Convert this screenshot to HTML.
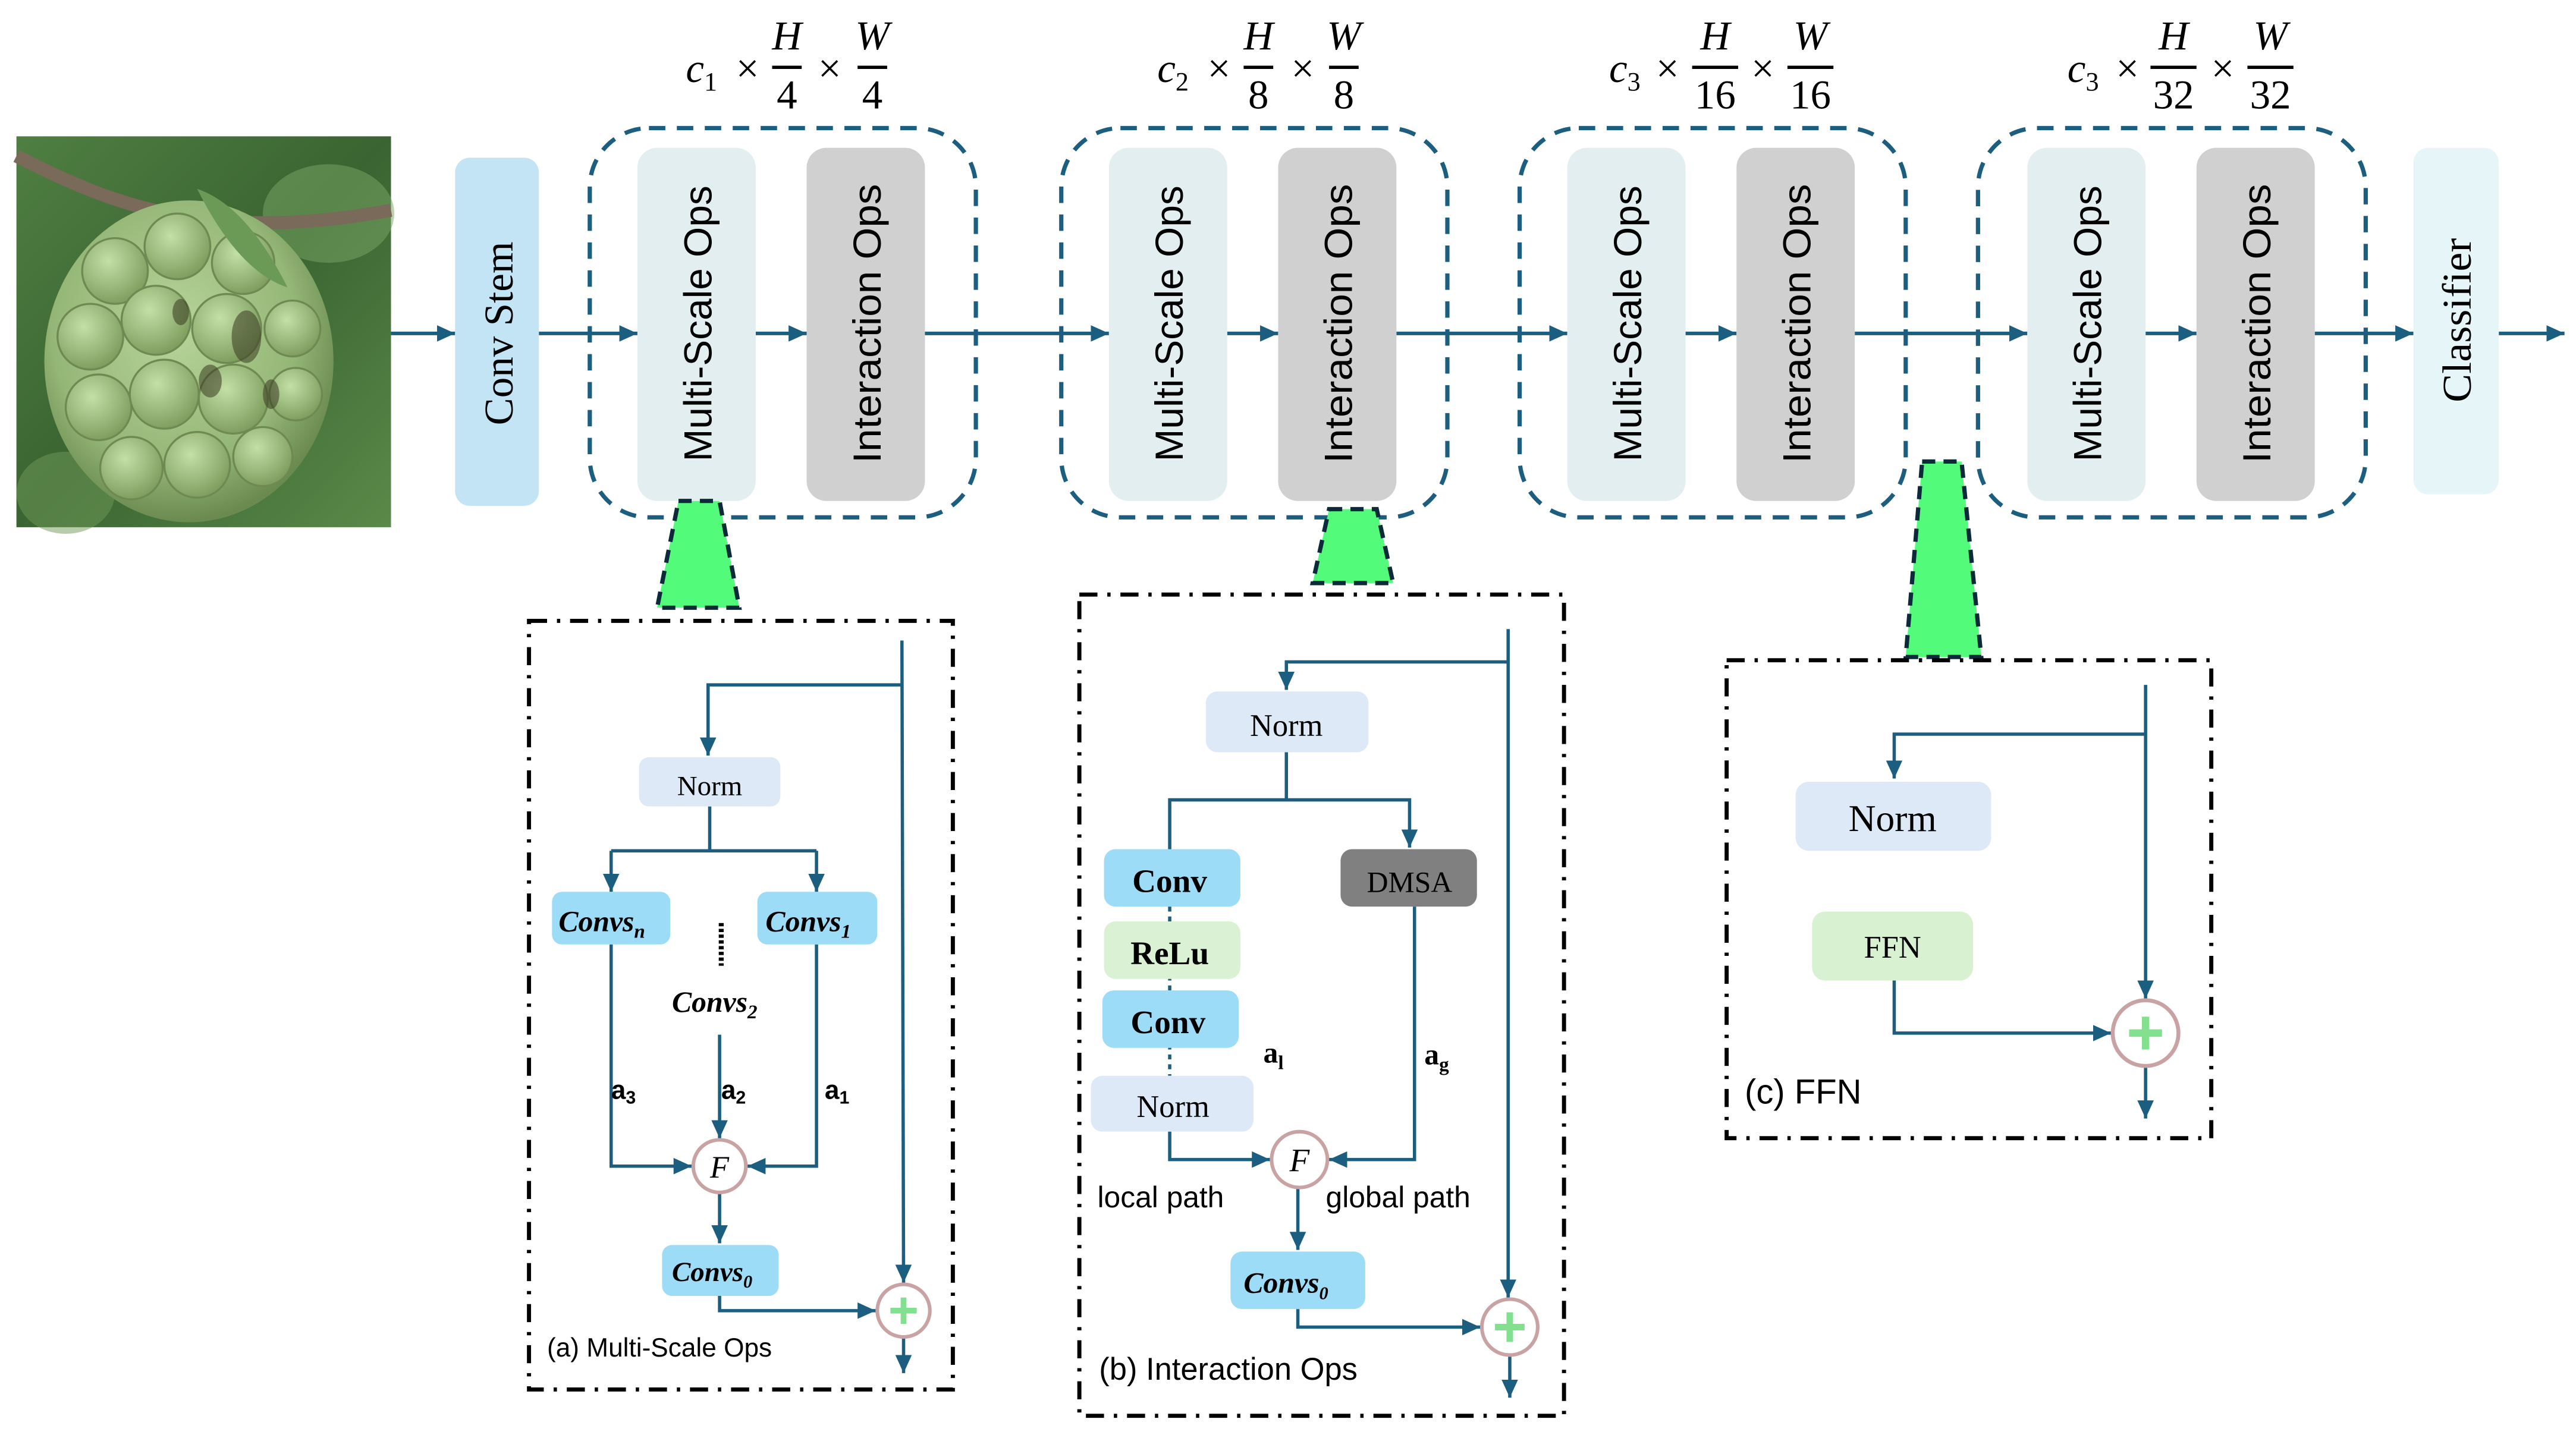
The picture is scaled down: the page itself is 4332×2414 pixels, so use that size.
<!DOCTYPE html>
<html><head><meta charset="utf-8"><style>
html,body{margin:0;padding:0;background:#fff;}
svg{display:block;}
.sans{font-family:"Liberation Sans","DejaVu Sans",sans-serif;}
.serif{font-family:"Liberation Serif","DejaVu Serif",serif;}
</style></head><body>
<svg width="4332" height="2414" viewBox="0 0 1568 873.7" preserveAspectRatio="none" xmlns="http://www.w3.org/2000/svg">
<defs>
<marker id="ah" markerUnits="userSpaceOnUse" markerWidth="12" markerHeight="10" refX="11" refY="5" orient="auto">
<path d="M0,0 L11,5 L0,10 Z" fill="#1b5e80"/></marker>
<radialGradient id="fruit" cx="45%" cy="40%" r="60%"><stop offset="0" stop-color="#b7d69a"/><stop offset="0.7" stop-color="#94b676"/><stop offset="1" stop-color="#6a8a50"/></radialGradient>
<radialGradient id="bump" cx="40%" cy="35%" r="65%"><stop offset="0" stop-color="#c3e0a6"/><stop offset="1" stop-color="#7f9f60"/></radialGradient>
<linearGradient id="bg" x1="0" y1="0" x2="1" y2="1"><stop offset="0" stop-color="#4f7f42"/><stop offset="0.5" stop-color="#3a6431"/><stop offset="1" stop-color="#5a8a4a"/></linearGradient>
</defs>
<rect width="1568" height="873.7" fill="#fff"/>

<!-- photo -->
<rect x="10" y="83" width="228" height="238" fill="url(#bg)"/>
<ellipse cx="200" cy="130" rx="40" ry="30" fill="#7aa865" opacity="0.5"/>
<ellipse cx="40" cy="300" rx="30" ry="25" fill="#6f9a58" opacity="0.5"/>
<path d="M10,95 C60,120 120,150 238,128" stroke="#7a6a5a" stroke-width="8" fill="none"/>
<ellipse cx="115" cy="220" rx="88" ry="98" fill="url(#fruit)"/>
<g fill="url(#bump)" stroke="#6e8a52" stroke-width="1.2">
<circle cx="70" cy="165" r="20"/><circle cx="108" cy="150" r="20"/><circle cx="148" cy="160" r="19"/>
<circle cx="55" cy="205" r="20"/><circle cx="95" cy="195" r="21"/><circle cx="138" cy="200" r="21"/><circle cx="178" cy="200" r="17"/>
<circle cx="60" cy="248" r="20"/><circle cx="100" cy="240" r="21"/><circle cx="142" cy="243" r="21"/><circle cx="180" cy="240" r="16"/>
<circle cx="80" cy="285" r="19"/><circle cx="120" cy="283" r="20"/><circle cx="160" cy="278" r="18"/>
</g>
<g fill="#3a3a22" opacity="0.55">
<ellipse cx="150" cy="205" rx="9" ry="16"/><ellipse cx="128" cy="232" rx="7" ry="10"/><ellipse cx="110" cy="190" rx="5" ry="8"/><ellipse cx="165" cy="240" rx="5" ry="9"/>
</g>
<path d="M120,115 q30,10 55,60 q-30,-10 -55,-60z" fill="#6a9a55"/>

<!-- main flow line -->
<g stroke="#1b5e80" stroke-width="2.2" fill="none">
<line x1="238" y1="203" x2="277" y2="203" marker-end="url(#ah)"/>
<line x1="328" y1="203" x2="388" y2="203" marker-end="url(#ah)"/>
<line x1="460" y1="203" x2="491" y2="203" marker-end="url(#ah)"/>
<line x1="563" y1="203" x2="675" y2="203" marker-end="url(#ah)"/>
<line x1="747" y1="203" x2="778" y2="203" marker-end="url(#ah)"/>
<line x1="850" y1="203" x2="954" y2="203" marker-end="url(#ah)"/>
<line x1="1026" y1="203" x2="1057" y2="203" marker-end="url(#ah)"/>
<line x1="1129" y1="203" x2="1234" y2="203" marker-end="url(#ah)"/>
<line x1="1306" y1="203" x2="1337" y2="203" marker-end="url(#ah)"/>
<line x1="1409" y1="203" x2="1469" y2="203" marker-end="url(#ah)"/>
<line x1="1521" y1="203" x2="1561" y2="203" marker-end="url(#ah)"/>
</g>

<!-- Conv stem -->
<rect x="277" y="96" width="51" height="212" rx="9" fill="#c2e4f5"/>
<text class="serif" font-size="25" transform="translate(312,203) rotate(-90)" text-anchor="middle">Conv Stem</text>

<!-- stages -->
<g fill="none" stroke="#1b5e80" stroke-width="2.6" stroke-dasharray="10 7">
<rect x="359" y="78" width="235" height="237" rx="36"/>
<rect x="646" y="78" width="235" height="237" rx="36"/>
<rect x="925" y="78" width="235" height="237" rx="36"/>
<rect x="1204" y="78" width="236" height="237" rx="36"/>
</g>
<g>
<rect x="388" y="90" width="72" height="215" rx="12" fill="#e3eef0"/>
<rect x="491" y="90" width="72" height="215" rx="12" fill="#d0d0d0"/>
<rect x="675" y="90" width="72" height="215" rx="12" fill="#e3eef0"/>
<rect x="778" y="90" width="72" height="215" rx="12" fill="#d0d0d0"/>
<rect x="954" y="90" width="72" height="215" rx="12" fill="#e3eef0"/>
<rect x="1057" y="90" width="72" height="215" rx="12" fill="#d0d0d0"/>
<rect x="1234" y="90" width="72" height="215" rx="12" fill="#e3eef0"/>
<rect x="1337" y="90" width="72" height="215" rx="12" fill="#d0d0d0"/>
<rect x="1469" y="90" width="52" height="211" rx="9" fill="#e6f6f8"/>
</g>
<g class="sans" font-size="24">
<text transform="translate(433,197) rotate(-90)" text-anchor="middle" textLength="168" lengthAdjust="spacingAndGlyphs">Multi-Scale Ops</text>
<text transform="translate(536,197) rotate(-90)" text-anchor="middle" textLength="170" lengthAdjust="spacingAndGlyphs">Interaction Ops</text>
<text transform="translate(720,197) rotate(-90)" text-anchor="middle" textLength="168" lengthAdjust="spacingAndGlyphs">Multi-Scale Ops</text>
<text transform="translate(823,197) rotate(-90)" text-anchor="middle" textLength="170" lengthAdjust="spacingAndGlyphs">Interaction Ops</text>
<text transform="translate(999,197) rotate(-90)" text-anchor="middle" textLength="168" lengthAdjust="spacingAndGlyphs">Multi-Scale Ops</text>
<text transform="translate(1102,197) rotate(-90)" text-anchor="middle" textLength="170" lengthAdjust="spacingAndGlyphs">Interaction Ops</text>
<text transform="translate(1279,197) rotate(-90)" text-anchor="middle" textLength="168" lengthAdjust="spacingAndGlyphs">Multi-Scale Ops</text>
<text transform="translate(1382,197) rotate(-90)" text-anchor="middle" textLength="170" lengthAdjust="spacingAndGlyphs">Interaction Ops</text>
</g>
<text class="serif" font-size="25" transform="translate(1504,195) rotate(-90)" text-anchor="middle" textLength="100" lengthAdjust="spacingAndGlyphs">Classifier</text>

<!-- math labels -->
<g class="serif" font-size="25" font-style="italic" text-anchor="middle">
<text x="427" y="50">c<tspan font-size="16" font-style="normal" dy="5">1</tspan></text>
<text x="455" y="50" font-style="normal">×</text>
<text x="479" y="30">H</text><text x="479" y="66" font-style="normal">4</text>
<text x="505" y="50" font-style="normal">×</text>
<text x="531" y="30">W</text><text x="531" y="66" font-style="normal">4</text>

<text x="714" y="50">c<tspan font-size="16" font-style="normal" dy="5">2</tspan></text>
<text x="742" y="50" font-style="normal">×</text>
<text x="766" y="30">H</text><text x="766" y="66" font-style="normal">8</text>
<text x="793" y="50" font-style="normal">×</text>
<text x="818" y="30">W</text><text x="818" y="66" font-style="normal">8</text>

<text x="989" y="50">c<tspan font-size="16" font-style="normal" dy="5">3</tspan></text>
<text x="1015" y="50" font-style="normal">×</text>
<text x="1044" y="30">H</text><text x="1044" y="66" font-style="normal">16</text>
<text x="1073" y="50" font-style="normal">×</text>
<text x="1102" y="30">W</text><text x="1102" y="66" font-style="normal">16</text>

<text x="1268" y="50">c<tspan font-size="16" font-style="normal" dy="5">3</tspan></text>
<text x="1295" y="50" font-style="normal">×</text>
<text x="1323" y="30">H</text><text x="1323" y="66" font-style="normal">32</text>
<text x="1353" y="50" font-style="normal">×</text>
<text x="1382" y="30">W</text><text x="1382" y="66" font-style="normal">32</text>
</g>
<g stroke="#000" stroke-width="2">
<line x1="470" y1="41" x2="488" y2="41"/><line x1="522" y1="41" x2="540" y2="41"/>
<line x1="757" y1="41" x2="775" y2="41"/><line x1="809" y1="41" x2="827" y2="41"/>
<line x1="1030" y1="41" x2="1058" y2="41"/><line x1="1088" y1="41" x2="1116" y2="41"/>
<line x1="1309" y1="41" x2="1337" y2="41"/><line x1="1368" y1="41" x2="1396" y2="41"/>
</g>

<!-- trapezoids -->
<g fill="#52fb7a" stroke="#0d2a3a" stroke-width="2.6" stroke-dasharray="8 5">
<path d="M413,305 L438,305 L450,370 L400,370 Z"/>
<path d="M809,310 L838,310 L848,355 L799,355 Z"/>
<path d="M1170,281 L1194,281 L1206,400 L1160,400 Z"/>
</g>

<!-- panel boxes -->
<g fill="none" stroke="#000" stroke-width="2.5" stroke-dasharray="11 6 2 6">
<rect x="322" y="378" width="258" height="468"/>
<rect x="657" y="362" width="295" height="500"/>
<rect x="1051" y="402" width="295" height="291"/>
</g>

<!-- Panel (a) -->
<g stroke="#1b5e80" stroke-width="2" fill="none">
<line x1="549" y1="390" x2="550" y2="781" marker-end="url(#ah)"/>
<polyline points="549,417 431,417 431,460" marker-end="url(#ah)"/>
<line x1="432" y1="491" x2="432" y2="518"/>
<polyline points="372,518 497,518"/>
<line x1="372" y1="518" x2="372" y2="543" marker-end="url(#ah)"/>
<line x1="497" y1="518" x2="497" y2="543" marker-end="url(#ah)"/>
<polyline points="372,575 372,710 421,710" marker-end="url(#ah)"/>
<polyline points="497,575 497,710 455,710" marker-end="url(#ah)"/>
<line x1="438" y1="630" x2="438" y2="693" marker-end="url(#ah)"/>
<line x1="438" y1="726" x2="438" y2="757" marker-end="url(#ah)"/>
<polyline points="438,789 438,798 533,798" marker-end="url(#ah)"/>
<line x1="550" y1="814" x2="550" y2="836" marker-end="url(#ah)"/>
</g>
<rect x="389" y="461" width="86" height="30" rx="6" fill="#dde9f6"/>
<text class="serif" x="432" y="484" font-size="17" text-anchor="middle">Norm</text>
<rect x="336" y="543" width="72" height="32" rx="6" fill="#9ddcf7"/>
<rect x="461" y="543" width="73" height="32" rx="6" fill="#9ddcf7"/>
<g class="serif" font-style="italic" font-weight="bold" font-size="18">
<text x="340" y="567">Convs<tspan font-size="12" dy="4">n</tspan></text>
<text x="466" y="567">Convs<tspan font-size="12" dy="4">1</tspan></text>
<text x="409" y="616">Convs<tspan font-size="12" dy="4">2</tspan></text>
</g>
<line x1="439" y1="562" x2="439" y2="588" stroke="#000" stroke-width="3" stroke-dasharray="2 1.5"/>
<g class="sans" font-weight="bold" font-size="16">
<text x="372" y="669">a<tspan font-size="11" dy="3">3</tspan></text>
<text x="439" y="669">a<tspan font-size="11" dy="3">2</tspan></text>
<text x="502" y="669">a<tspan font-size="11" dy="3">1</tspan></text>
</g>
<circle cx="438" cy="710" r="16" fill="#fff" stroke="#c9a3a3" stroke-width="2.2"/>
<text class="serif" x="438" y="717" font-size="19" font-style="italic" text-anchor="middle">F</text>
<rect x="403" y="758" width="71" height="31" rx="6" fill="#9ddcf7"/>
<text class="serif" x="409" y="780" font-style="italic" font-weight="bold" font-size="17">Convs<tspan font-size="11" dy="4">0</tspan></text>
<circle cx="550" cy="798" r="16" fill="#fff" stroke="#c9a3a3" stroke-width="2.2"/>
<path d="M542,798 h16 M550,790 v16" stroke="#82e08f" stroke-width="3.5"/>
<text class="sans" x="333" y="826" font-size="16">(a) Multi-Scale Ops</text>

<!-- Panel (b) -->
<g stroke="#1b5e80" stroke-width="2" fill="none">
<line x1="918" y1="383" x2="918" y2="790" marker-end="url(#ah)"/>
<polyline points="918,403 783,403 783,420" marker-end="url(#ah)"/>
<line x1="783" y1="458" x2="783" y2="487"/>
<polyline points="712,517 712,487 858,487 858,516" marker-end="url(#ah)"/>
<line x1="712" y1="552" x2="712" y2="655" stroke-dasharray="3 3"/>
<polyline points="712,689 712,706 773,706" marker-end="url(#ah)"/>
<polyline points="861,552 861,706 809,706" marker-end="url(#ah)"/>
<line x1="790" y1="723" x2="790" y2="761" marker-end="url(#ah)"/>
<polyline points="790,797 790,808 901,808" marker-end="url(#ah)"/>
<line x1="919" y1="825" x2="919" y2="851" marker-end="url(#ah)"/>
</g>
<rect x="734" y="421" width="99" height="37" rx="7" fill="#dde9f6"/>
<text class="serif" x="783" y="448" font-size="19" text-anchor="middle">Norm</text>
<rect x="672" y="517" width="83" height="35" rx="7" fill="#9ddcf7"/>
<rect x="672" y="561" width="83" height="35" rx="7" fill="#daf2d3"/>
<rect x="671" y="603" width="83" height="35" rx="7" fill="#9ddcf7"/>
<rect x="664" y="655" width="99" height="34" rx="7" fill="#dde9f6"/>
<rect x="816" y="517" width="83" height="35" rx="7" fill="#808080"/>
<g class="serif" text-anchor="middle">
<text x="712" y="543" font-size="20" font-weight="bold">Conv</text>
<text x="712" y="587" font-size="20" font-weight="bold">ReLu</text>
<text x="711" y="629" font-size="20" font-weight="bold">Conv</text>
<text x="714" y="680" font-size="19">Norm</text>
<text x="858" y="543" font-size="18">DMSA</text>
</g>
<g class="serif" font-weight="bold" font-size="18">
<text x="769" y="647">a<tspan font-size="12" dy="4">l</tspan></text>
<text x="867" y="648">a<tspan font-size="12" dy="4">g</tspan></text>
</g>
<circle cx="791" cy="706" r="17" fill="#fff" stroke="#c9a3a3" stroke-width="2.2"/>
<text class="serif" x="791" y="713" font-size="20" font-style="italic" text-anchor="middle">F</text>
<g class="sans" font-size="18">
<text x="668" y="735">local path</text>
<text x="807" y="735">global  path</text>
</g>
<rect x="749" y="762" width="82" height="35" rx="7" fill="#9ddcf7"/>
<text class="serif" x="757" y="787" font-style="italic" font-weight="bold" font-size="18">Convs<tspan font-size="11" dy="4">0</tspan></text>
<circle cx="919" cy="808" r="17" fill="#fff" stroke="#c9a3a3" stroke-width="2.2"/>
<path d="M910,808 h18 M919,799 v18" stroke="#82e08f" stroke-width="4"/>
<text class="sans" x="669" y="840" font-size="19">(b) Interaction Ops</text>

<!-- Panel (c) -->
<g stroke="#1b5e80" stroke-width="2" fill="none">
<line x1="1306" y1="417" x2="1306" y2="608" marker-end="url(#ah)"/>
<polyline points="1306,447 1153,447 1153,474" marker-end="url(#ah)"/>
<polyline points="1153,597 1153,629 1285,629" marker-end="url(#ah)"/>
<line x1="1306" y1="649" x2="1306" y2="681" marker-end="url(#ah)"/>
</g>
<rect x="1093" y="476" width="119" height="42" rx="8" fill="#dde9f6"/>
<text class="serif" x="1152" y="506" font-size="23" text-anchor="middle">Norm</text>
<rect x="1103" y="555" width="98" height="42" rx="8" fill="#d8f1d0"/>
<text class="serif" x="1152" y="583" font-size="19" text-anchor="middle">FFN</text>
<circle cx="1306" cy="629" r="20" fill="#fff" stroke="#c9a3a3" stroke-width="2.4"/>
<path d="M1296,629 h20 M1306,619 v20" stroke="#82e08f" stroke-width="4.5"/>
<text class="sans" x="1062" y="672" font-size="21">(c) FFN</text>
</svg>
</body></html>
